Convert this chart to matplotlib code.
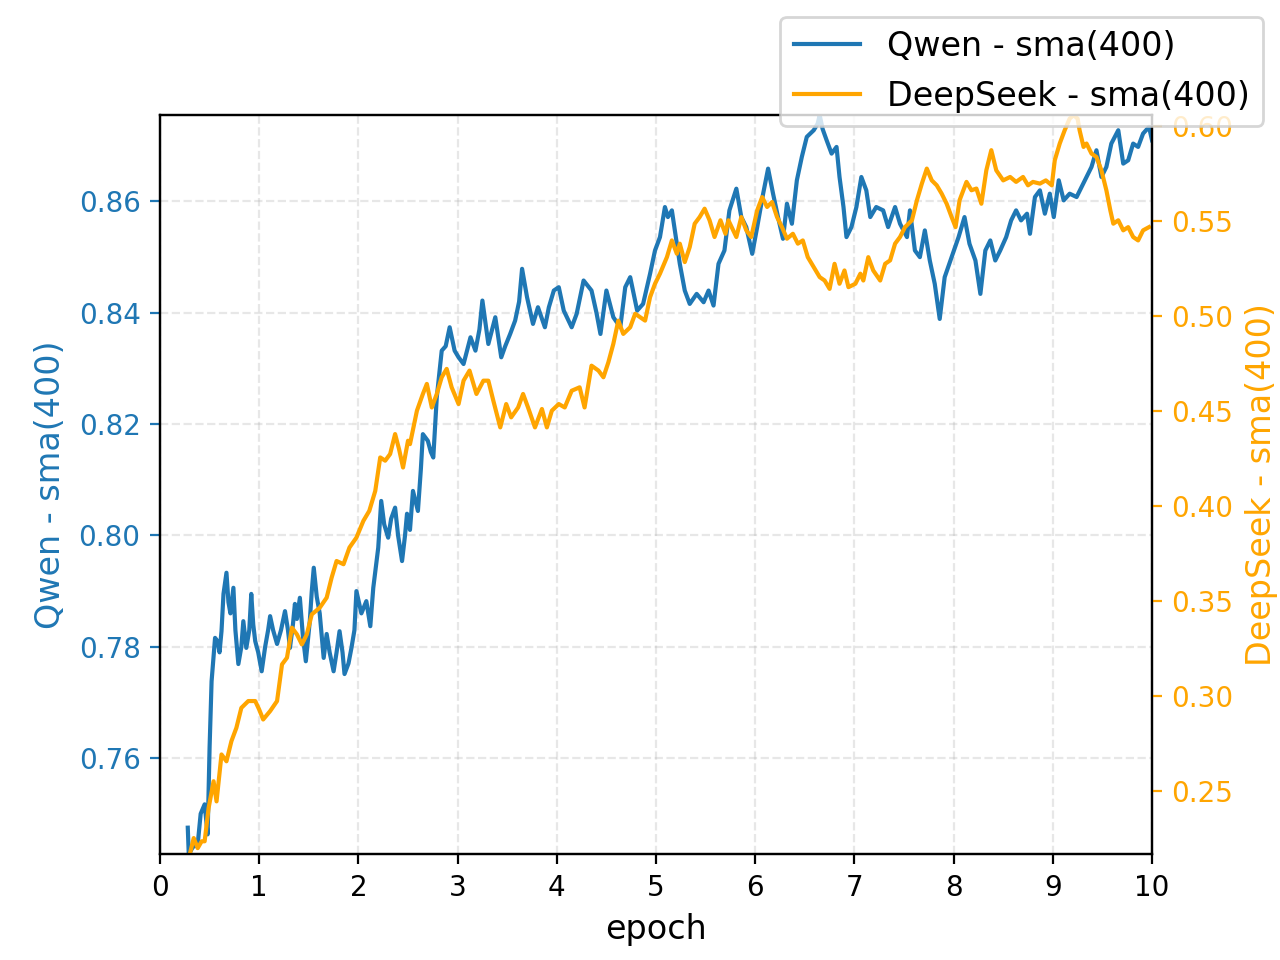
import matplotlib
matplotlib.use("Agg")
import matplotlib.pyplot as plt

# Qwen - sma(400)
qwen_epoch = [
    0.28, 0.29, 0.33, 0.38, 0.41, 0.45, 0.48, 0.50, 0.52, 0.555, 0.58, 0.60, 0.62, 0.64, 0.67,
    0.69, 0.71, 0.74, 0.76, 0.79, 0.82, 0.84, 0.87, 0.90, 0.92, 0.94, 0.96, 0.99, 1.025, 1.06,
    1.09, 1.11, 1.14, 1.18, 1.22, 1.26, 1.29, 1.31, 1.34, 1.36, 1.38, 1.41, 1.44, 1.47, 1.49,
    1.51, 1.53, 1.55, 1.58, 1.61, 1.65, 1.68, 1.71, 1.75, 1.78, 1.81, 1.84, 1.86, 1.90, 1.93,
    1.96, 1.98, 2.03, 2.08, 2.12, 2.15, 2.18, 2.20, 2.23, 2.26, 2.30, 2.33, 2.37, 2.40, 2.44,
    2.47, 2.49, 2.52, 2.55, 2.60, 2.63, 2.65, 2.70, 2.73, 2.755, 2.79, 2.84, 2.88, 2.92, 2.97,
    3.01, 3.06, 3.13, 3.18, 3.22, 3.25, 3.31, 3.38, 3.44, 3.48, 3.53, 3.58, 3.62, 3.65, 3.70,
    3.76, 3.81, 3.88, 3.92, 3.97, 4.02, 4.07, 4.15, 4.20, 4.27, 4.35, 4.40, 4.44, 4.50, 4.57,
    4.64, 4.69, 4.74, 4.81, 4.87, 4.94, 4.99, 5.04, 5.09, 5.12, 5.16, 5.19, 5.24, 5.29, 5.34,
    5.41, 5.48, 5.53, 5.58, 5.63, 5.69, 5.74, 5.81, 5.86, 5.91, 5.97, 6.02, 6.08, 6.13, 6.18,
    6.23, 6.28, 6.32, 6.37, 6.42, 6.47, 6.52, 6.59, 6.63, 6.65, 6.68, 6.72, 6.77, 6.82, 6.85,
    6.89, 6.92, 6.97, 7.02, 7.07, 7.12, 7.16, 7.22, 7.29, 7.34, 7.41, 7.46, 7.53, 7.56, 7.61,
    7.66, 7.71, 7.76, 7.81, 7.86, 7.91, 7.98, 8.05, 8.11, 8.16, 8.22, 8.27, 8.32, 8.37, 8.42,
    8.47, 8.53, 8.58, 8.63, 8.68, 8.74, 8.77, 8.82, 8.87, 8.92, 8.97, 9.01, 9.06, 9.11, 9.17,
    9.24, 9.29, 9.34, 9.39, 9.44, 9.49, 9.54, 9.59, 9.66, 9.71, 9.76, 9.81, 9.86, 9.91, 9.97,
    10.0,
]
qwen_sma = [
    0.7475, 0.7427, 0.7440, 0.7445, 0.7500, 0.7517, 0.7463, 0.7620, 0.7738, 0.7816, 0.7810, 0.7790, 0.7828, 0.7895, 0.7933,
    0.7880, 0.7860, 0.7906, 0.7830, 0.7769, 0.7800, 0.7846, 0.7798, 0.7830, 0.7895, 0.7840, 0.7810, 0.7790, 0.7756, 0.7800,
    0.7830, 0.7855, 0.7830, 0.7805, 0.7830, 0.7864, 0.7830, 0.7798, 0.7840, 0.7877, 0.7850, 0.7888, 0.7820, 0.7774, 0.7810,
    0.7846, 0.7900, 0.7942, 0.7890, 0.7860, 0.7780, 0.7823, 0.7790, 0.7756, 0.7790, 0.7828, 0.7790, 0.7751, 0.7770, 0.7798,
    0.7830, 0.7900, 0.7860, 0.7882, 0.7837, 0.7906, 0.7950, 0.7978, 0.8062, 0.8020, 0.7996, 0.8030, 0.8050, 0.8000, 0.7954,
    0.8000, 0.8039, 0.8010, 0.8080, 0.8044, 0.8120, 0.8182, 0.8170, 0.8150, 0.8140, 0.8248, 0.8332, 0.8340, 0.8374, 0.8332,
    0.8320, 0.8308, 0.8356, 0.8332, 0.8370, 0.8422, 0.8344, 0.8392, 0.8320, 0.8340, 0.8362, 0.8386, 0.8420, 0.8479, 0.8428,
    0.8380, 0.8410, 0.8374, 0.8410, 0.8440, 0.8446, 0.8404, 0.8374, 0.8398, 0.8458, 0.8440, 0.8400, 0.8362, 0.8440, 0.8392,
    0.8374, 0.8446, 0.8464, 0.8404, 0.8416, 0.8470, 0.8512, 0.8536, 0.8590, 0.8572, 0.8584, 0.8548, 0.8488, 0.8440, 0.8416,
    0.8434, 0.8419, 0.8440, 0.8413, 0.8488, 0.8512, 0.8584, 0.8623, 0.8572, 0.8554, 0.8506, 0.8554, 0.8614, 0.8659, 0.8614,
    0.8572, 0.8533, 0.8596, 0.8560, 0.8638, 0.8680, 0.8716, 0.8728, 0.8740, 0.8755, 0.8730, 0.8710, 0.8686, 0.8698, 0.8644,
    0.8590, 0.8536, 0.8554, 0.8590, 0.8644, 0.8620, 0.8572, 0.8590, 0.8584, 0.8554, 0.8590, 0.8560, 0.8536, 0.8584, 0.8512,
    0.8500, 0.8548, 0.8494, 0.8452, 0.8389, 0.8464, 0.8500, 0.8536, 0.8572, 0.8524, 0.8494, 0.8434, 0.8512, 0.8530, 0.8494,
    0.8512, 0.8536, 0.8566, 0.8584, 0.8566, 0.8578, 0.8542, 0.8608, 0.8620, 0.8578, 0.8614, 0.8572, 0.8638, 0.8602, 0.8614,
    0.8608, 0.8626, 0.8644, 0.8662, 0.8692, 0.8644, 0.8662, 0.8704, 0.8728, 0.8668, 0.8674, 0.8704, 0.8698, 0.8722, 0.8734,
    0.8710,
]

# DeepSeek - sma(400)
ds_epoch = [
    0.30, 0.34, 0.38, 0.42, 0.45, 0.49, 0.54, 0.57, 0.62, 0.67, 0.72, 0.77, 0.82, 0.89, 0.96,
    1.00, 1.04, 1.11, 1.18, 1.23, 1.28, 1.33, 1.38, 1.43, 1.48, 1.53, 1.61, 1.68, 1.73, 1.78,
    1.85, 1.91, 1.98, 2.05, 2.11, 2.17, 2.22, 2.27, 2.32, 2.37, 2.41, 2.45, 2.50, 2.52, 2.59,
    2.65, 2.69, 2.74, 2.79, 2.84, 2.89, 2.94, 3.01, 3.06, 3.12, 3.19, 3.26, 3.31, 3.36, 3.43,
    3.49, 3.54, 3.61, 3.66, 3.71, 3.78, 3.85, 3.90, 3.95, 4.02, 4.08, 4.15, 4.23, 4.28, 4.35,
    4.42, 4.47, 4.52, 4.57, 4.62, 4.67, 4.74, 4.79, 4.84, 4.89, 4.94, 4.99, 5.04, 5.11, 5.16,
    5.21, 5.24, 5.29, 5.34, 5.39, 5.44, 5.49, 5.54, 5.59, 5.65, 5.70, 5.73, 5.81, 5.86, 5.91,
    5.96, 6.02, 6.07, 6.12, 6.17, 6.22, 6.27, 6.32, 6.38, 6.43, 6.48, 6.53, 6.59, 6.65, 6.70,
    6.75, 6.80, 6.85, 6.90, 6.94, 7.01, 7.06, 7.09, 7.14, 7.19, 7.26, 7.31, 7.36, 7.41, 7.46,
    7.51, 7.58, 7.63, 7.68, 7.73, 7.78, 7.83, 7.88, 7.93, 7.98, 8.02, 8.06, 8.13, 8.18, 8.23,
    8.28, 8.33, 8.38, 8.43, 8.50, 8.57, 8.63, 8.70, 8.75, 8.80, 8.87, 8.93, 8.99, 9.02, 9.07,
    9.12, 9.17, 9.21, 9.25, 9.27, 9.31, 9.34, 9.39, 9.44, 9.49, 9.54, 9.58, 9.61, 9.66, 9.71,
    9.76, 9.81, 9.86, 9.91, 9.97,
]
ds_sma = [
    0.2168, 0.2254, 0.2201, 0.2237, 0.2237, 0.2412, 0.2553, 0.2447, 0.2694, 0.2658, 0.2764, 0.2834, 0.2939, 0.2975, 0.2975,
    0.2930, 0.2878, 0.2922, 0.2975, 0.3168, 0.3203, 0.3361, 0.3326, 0.3273, 0.3326, 0.3431, 0.3466, 0.3519, 0.3624, 0.3712,
    0.3695, 0.3783, 0.3835, 0.3923, 0.3976, 0.4081, 0.4257, 0.4240, 0.4275, 0.4380, 0.4300, 0.4204, 0.4345, 0.4327, 0.4503,
    0.4591, 0.4644, 0.4520, 0.4591, 0.4679, 0.4723, 0.4626, 0.4538, 0.4661, 0.4714, 0.4591, 0.4661, 0.4661, 0.4556, 0.4415,
    0.4538, 0.4468, 0.4520, 0.4591, 0.4520, 0.4415, 0.4512, 0.4415, 0.4503, 0.4538, 0.4520, 0.4608, 0.4626, 0.4520, 0.4740,
    0.4714, 0.4679, 0.4758, 0.4855, 0.4977, 0.4907, 0.4942, 0.5013, 0.4995, 0.4977, 0.5100, 0.5171, 0.5224, 0.5311, 0.5399,
    0.5329, 0.5382, 0.5285, 0.5364, 0.5487, 0.5522, 0.5566, 0.5505, 0.5417, 0.5505, 0.5434, 0.5505, 0.5417, 0.5522, 0.5452,
    0.5417, 0.5557, 0.5627, 0.5575, 0.5601, 0.5522, 0.5469, 0.5408, 0.5434, 0.5382, 0.5399, 0.5311, 0.5258, 0.5206, 0.5188,
    0.5144, 0.5276, 0.5171, 0.5241, 0.5153, 0.5171, 0.5224, 0.5188, 0.5311, 0.5241, 0.5188, 0.5276, 0.5294, 0.5382, 0.5417,
    0.5469, 0.5505, 0.5610, 0.5698, 0.5777, 0.5715, 0.5689, 0.5645, 0.5592, 0.5522, 0.5469, 0.5610, 0.5707, 0.5663, 0.5672,
    0.5592, 0.5768, 0.5874, 0.5768, 0.5715, 0.5733, 0.5707, 0.5733, 0.5689, 0.5707, 0.5698, 0.5715, 0.5689, 0.5821, 0.5909,
    0.5979, 0.6040, 0.6058, 0.6040, 0.5979, 0.5891, 0.5909, 0.5856, 0.5838, 0.5768, 0.5663, 0.5557, 0.5487, 0.5505, 0.5452,
    0.5469, 0.5417, 0.5399, 0.5452, 0.5469,
]

qwen_label = "Qwen - sma(400)"
ds_label = "DeepSeek - sma(400)"
qwen_color = "tab:blue"
ds_color = "orange"

fig, ax1 = plt.subplots(figsize=(6.4, 4.8))

l1, = ax1.plot(qwen_epoch, qwen_sma, color=qwen_color, linewidth=1.5, label=qwen_label)
ax1.set_xlabel("epoch", fontsize=12)
ax1.set_ylabel(qwen_label, color=qwen_color, fontsize=12)
ax1.tick_params(axis="y", colors=qwen_color)
ax1.set_ylim(min(qwen_sma), max(qwen_sma))
ax1.set_xlim(0, 10)
ax1.set_xticks(range(0, 11))
ax1.grid(True, linestyle="--", alpha=0.3)

ax2 = ax1.twinx()
l2, = ax2.plot(ds_epoch, ds_sma, color=ds_color, linewidth=1.5, label=ds_label)
ax2.set_ylabel(ds_label, color=ds_color, fontsize=12)
ax2.tick_params(axis="y", colors=ds_color)
ax2.set_ylim(min(ds_sma), max(ds_sma))

fig.legend(handles=[l1, l2], loc="upper right", fontsize=12)

fig.savefig("out.png", dpi=200)
plt.close(fig)
